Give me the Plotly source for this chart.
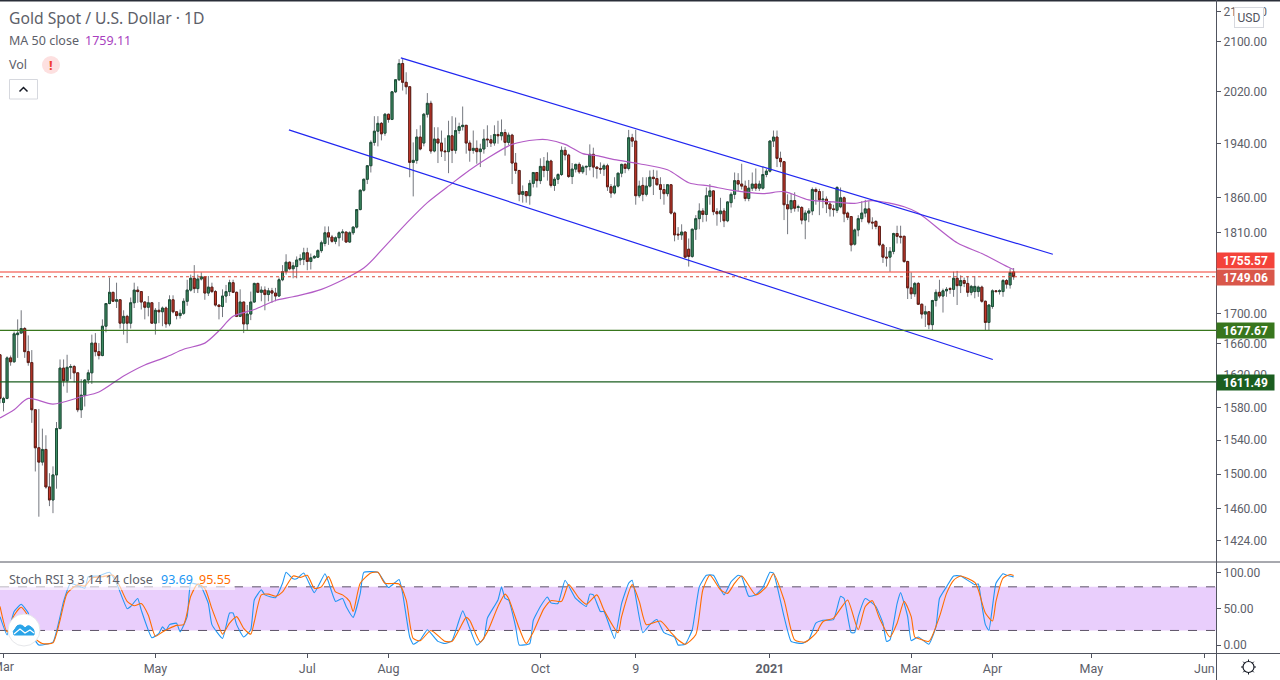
import math
import plotly.graph_objects as go

# Daily candles
opens = [
    1646, 1586, 1591, 1642, 1637, 1672, 1674, 1680, 1650, 1636,
    1577, 1531, 1514, 1529, 1485, 1470, 1499, 1554, 1629, 1613,
    1630, 1631, 1623, 1577, 1595, 1614, 1623, 1661, 1650, 1645,
    1683, 1713, 1728, 1716, 1718, 1687, 1696, 1687, 1714, 1731,
    1729, 1715, 1708, 1714, 1687, 1704, 1702, 1707, 1686, 1718,
    1702, 1697, 1700, 1716, 1731, 1747, 1733, 1746, 1749, 1727,
    1735, 1729, 1711, 1709, 1723, 1729, 1741, 1728, 1696, 1715,
    1686, 1699, 1715, 1740, 1728, 1731, 1725, 1730, 1727, 1723,
    1745, 1756, 1769, 1760, 1763, 1772, 1773, 1782, 1770, 1775,
    1776, 1785, 1795, 1810, 1804, 1798, 1803, 1810, 1811, 1797,
    1810, 1818, 1843, 1871, 1887, 1907, 1942, 1959, 1971, 1956,
    1985, 1977, 2020, 2039, 2065, 2035, 2028, 1912, 1915, 1950,
    1941, 1985, 2002, 1929, 1947, 1941, 1929, 1928, 1952, 1930,
    1960, 1966, 1968, 1941, 1930, 1933, 1928, 1932, 1947, 1946,
    1941, 1954, 1952, 1957, 1942, 1953, 1911, 1900, 1865, 1869,
    1863, 1881, 1897, 1885, 1906, 1900, 1914, 1878, 1887, 1894,
    1930, 1923, 1891, 1902, 1909, 1898, 1905, 1906, 1924, 1905,
    1903, 1902, 1907, 1876, 1867, 1877, 1896, 1909, 1903, 1949,
    1944, 1863, 1878, 1865, 1877, 1890, 1888, 1879, 1872, 1866,
    1879, 1838, 1808, 1807, 1811, 1787, 1777, 1815, 1830, 1841,
    1836, 1862, 1870, 1840, 1837, 1841, 1827, 1853, 1865, 1885,
    1880, 1877, 1859, 1874, 1880, 1874, 1874, 1894, 1899, 1944,
    1950, 1918, 1913, 1850, 1844, 1856, 1846, 1846, 1828, 1838,
    1841, 1872, 1869, 1857, 1858, 1851, 1844, 1842, 1847, 1860,
    1838, 1833, 1794, 1814, 1830, 1838, 1844, 1825, 1826, 1819,
    1793, 1776, 1776, 1784, 1809, 1805, 1805, 1770, 1734, 1726,
    1740, 1712, 1699, 1702, 1685, 1717, 1728, 1723, 1730, 1733,
    1732, 1747, 1737, 1744, 1740, 1728, 1729, 1729, 1735, 1716,
    1688, 1709, 1730, 1729, 1729, 1744, 1738, 1755.57,
]
highs = [
    1646, 1593, 1644, 1645, 1676, 1692, 1704, 1682, 1671, 1652,
    1577, 1578, 1554, 1546, 1501, 1509, 1562, 1640, 1640, 1646,
    1634, 1633, 1623, 1615, 1615, 1627, 1672, 1674, 1661, 1692,
    1713, 1748, 1728, 1741, 1718, 1704, 1698, 1721, 1741, 1736,
    1729, 1716, 1723, 1714, 1707, 1715, 1709, 1709, 1724, 1724,
    1702, 1705, 1720, 1745, 1752, 1765, 1752, 1755, 1750, 1750,
    1741, 1731, 1711, 1732, 1738, 1745, 1745, 1729, 1732, 1715,
    1711, 1729, 1741, 1741, 1736, 1736, 1734, 1734, 1734, 1748,
    1765, 1780, 1770, 1769, 1777, 1780, 1789, 1789, 1781, 1779,
    1787, 1799, 1819, 1819, 1807, 1805, 1812, 1815, 1811, 1812,
    1819, 1843, 1872, 1888, 1908, 1945, 1982, 1982, 1973, 1987,
    1986, 2021, 2040, 2072, 2072, 2051, 2028, 1942, 1962, 1968,
    1987, 2018, 2006, 1965, 1965, 1960, 1949, 1975, 1982, 1980,
    1972, 1997, 1968, 1945, 1960, 1945, 1940, 1962, 1968, 1953,
    1968, 1975, 1977, 1962, 1957, 1955, 1926, 1900, 1878, 1869,
    1886, 1897, 1897, 1918, 1920, 1927, 1916, 1890, 1896, 1936,
    1935, 1925, 1911, 1910, 1912, 1908, 1907, 1939, 1934, 1906,
    1912, 1910, 1910, 1880, 1890, 1896, 1910, 1911, 1961, 1955,
    1961, 1885, 1890, 1890, 1900, 1901, 1900, 1890, 1880, 1880,
    1880, 1840, 1818, 1822, 1812, 1802, 1816, 1835, 1852, 1845,
    1875, 1880, 1871, 1845, 1860, 1845, 1855, 1868, 1897, 1896,
    1910, 1885, 1886, 1897, 1903, 1885, 1906, 1903, 1945, 1960,
    1960, 1928, 1914, 1865, 1866, 1868, 1850, 1848, 1842, 1845,
    1875, 1875, 1873, 1870, 1862, 1855, 1850, 1877, 1875, 1862,
    1840, 1833, 1816, 1835, 1855, 1857, 1855, 1832, 1828, 1820,
    1795, 1790, 1790, 1810, 1820, 1820, 1806, 1771, 1755, 1742,
    1742, 1713, 1710, 1703, 1718, 1732, 1745, 1733, 1735, 1735,
    1756, 1757, 1751, 1748, 1750, 1738, 1750, 1737, 1737, 1717,
    1712, 1732, 1731, 1732, 1746, 1746, 1760, 1761,
]
lows = [
    1585, 1575, 1590, 1632, 1636, 1642, 1674, 1642, 1632, 1561,
    1503, 1451, 1510, 1483, 1463, 1455, 1483, 1554, 1606, 1598,
    1615, 1611, 1574, 1567, 1581, 1609, 1609, 1644, 1640, 1644,
    1675, 1712, 1715, 1707, 1680, 1672, 1661, 1680, 1707, 1714,
    1705, 1692, 1696, 1687, 1672, 1687, 1683, 1681, 1683, 1700,
    1692, 1693, 1698, 1710, 1729, 1727, 1727, 1744, 1718, 1723,
    1727, 1709, 1692, 1695, 1714, 1723, 1727, 1695, 1695, 1674,
    1678, 1691, 1714, 1727, 1716, 1704, 1716, 1714, 1716, 1722,
    1743, 1752, 1758, 1747, 1747, 1765, 1765, 1758, 1759, 1774,
    1775, 1782, 1791, 1793, 1796, 1794, 1791, 1799, 1796, 1796,
    1807, 1816, 1842, 1869, 1880, 1897, 1937, 1936, 1945, 1952,
    1972, 1976, 2018, 2037, 2022, 2016, 1890, 1862, 1910, 1930,
    1936, 1980, 1925, 1927, 1911, 1920, 1914, 1896, 1911, 1925,
    1955, 1960, 1925, 1913, 1925, 1910, 1905, 1925, 1935, 1935,
    1937, 1940, 1945, 1922, 1938, 1880, 1895, 1855, 1853, 1853,
    1850, 1875, 1875, 1880, 1890, 1885, 1875, 1870, 1880, 1892,
    1915, 1889, 1880, 1897, 1895, 1895, 1893, 1900, 1890, 1888,
    1895, 1892, 1870, 1860, 1865, 1875, 1890, 1896, 1900, 1935,
    1850, 1860, 1855, 1862, 1875, 1864, 1878, 1858, 1850, 1862,
    1836, 1798, 1800, 1800, 1775, 1763, 1775, 1800, 1815, 1825,
    1826, 1850, 1835, 1820, 1825, 1818, 1825, 1846, 1858, 1870,
    1872, 1855, 1855, 1870, 1870, 1870, 1872, 1890, 1897, 1935,
    1905, 1905, 1828, 1808, 1838, 1840, 1840, 1822, 1801, 1825,
    1835, 1850, 1835, 1845, 1838, 1833, 1833, 1838, 1845, 1825,
    1828, 1784, 1792, 1805, 1825, 1832, 1822, 1815, 1815, 1791,
    1768, 1763, 1756, 1780, 1795, 1795, 1768, 1719, 1719, 1722,
    1711, 1693, 1682, 1679, 1677, 1709, 1720, 1701, 1722, 1726,
    1722, 1711, 1727, 1735, 1722, 1724, 1720, 1722, 1714, 1678,
    1678, 1706, 1728, 1725, 1722, 1733, 1733, 1745,
]
closes = [
    1591, 1591, 1642, 1637, 1673, 1674, 1680, 1650, 1636, 1577,
    1531, 1514, 1529, 1485, 1470, 1499, 1554, 1629, 1613, 1630,
    1631, 1623, 1577, 1595, 1614, 1623, 1661, 1650, 1645, 1683,
    1713, 1728, 1716, 1718, 1687, 1696, 1687, 1714, 1731, 1729,
    1715, 1708, 1714, 1687, 1704, 1702, 1707, 1686, 1718, 1702,
    1697, 1700, 1716, 1731, 1747, 1733, 1746, 1749, 1727, 1735,
    1729, 1711, 1709, 1723, 1729, 1741, 1728, 1696, 1715, 1686,
    1699, 1715, 1740, 1728, 1731, 1725, 1730, 1727, 1723, 1745,
    1756, 1769, 1760, 1764, 1772, 1774, 1782, 1770, 1775, 1777,
    1785, 1796, 1810, 1804, 1798, 1803, 1810, 1811, 1797, 1810,
    1818, 1843, 1871, 1887, 1907, 1942, 1959, 1971, 1955, 1985,
    1977, 2020, 2039, 2065, 2035, 2028, 1912, 1915, 1950, 1932,
    1985, 2002, 1929, 1947, 1941, 1929, 1928, 1952, 1930, 1960,
    1966, 1968, 1941, 1930, 1933, 1928, 1932, 1947, 1946, 1941,
    1954, 1952, 1957, 1942, 1953, 1911, 1900, 1865, 1869, 1863,
    1881, 1897, 1885, 1906, 1900, 1914, 1878, 1887, 1894, 1930,
    1923, 1891, 1902, 1909, 1898, 1905, 1906, 1924, 1905, 1903,
    1902, 1907, 1876, 1867, 1877, 1896, 1909, 1903, 1949, 1944,
    1863, 1877, 1865, 1877, 1890, 1888, 1879, 1872, 1866, 1879,
    1838, 1807, 1807, 1811, 1776, 1777, 1815, 1830, 1841, 1836,
    1863, 1870, 1840, 1837, 1841, 1827, 1854, 1865, 1885, 1880,
    1877, 1859, 1874, 1880, 1874, 1880, 1894, 1899, 1944, 1950,
    1918, 1913, 1850, 1844, 1856, 1845, 1847, 1828, 1838, 1841,
    1872, 1869, 1857, 1858, 1851, 1844, 1843, 1875, 1860, 1837,
    1832, 1793, 1814, 1830, 1838, 1844, 1825, 1824, 1819, 1793,
    1776, 1775, 1784, 1809, 1805, 1804, 1770, 1734, 1726, 1740,
    1712, 1699, 1702, 1685, 1717, 1728, 1723, 1730, 1732, 1732,
    1747, 1737, 1744, 1740, 1728, 1736, 1736, 1735, 1716, 1688,
    1711, 1730, 1729, 1730, 1744, 1739, 1755, 1749.06,
]
bars = list(range(len(closes)))

# MA 50, read at the bends of the curve
ma_bars = [0, 4, 8, 15, 23, 28, 35, 41, 47, 52, 58, 62, 66, 72, 78, 83, 91, 103,
           109, 115, 121, 128, 131, 138, 145, 152, 155, 160, 165, 169, 174, 181,
           189, 195, 201, 207, 216, 222, 229, 236, 242, 247, 256, 260, 271, 278,
           286, 287]
ma_vals = [1567, 1577, 1591, 1584, 1593, 1599, 1619, 1633, 1643, 1653, 1661, 1677,
           1696, 1705, 1717, 1722, 1732, 1761, 1791, 1823, 1853, 1881, 1893, 1918,
           1939, 1946, 1946, 1939, 1925, 1922, 1916, 1910, 1901, 1882, 1877, 1871,
           1866, 1869, 1857, 1854, 1852, 1856, 1847, 1838, 1796, 1781, 1761, 1759.11]

# Stoch RSI lines
k_bars = [0, 2, 4, 6, 8, 9, 11, 15, 17, 18, 20, 24, 25, 28, 31, 33, 36, 37, 39, 40,
          43, 45, 46, 47, 48, 50, 51, 53, 54, 56, 57, 59, 60, 63, 65, 66, 67, 69, 71,
          72, 74, 75, 78, 80, 81, 83, 84, 86, 89, 92, 93, 95, 97, 98, 100, 102, 103,
          107, 110, 113, 114, 116, 117, 119, 121, 124, 126, 128, 131, 133, 135, 137,
          138, 141, 142, 143, 144, 146, 147, 150, 151, 153, 155, 156, 158, 160, 163,
          166, 167, 168, 170, 171, 174, 176, 178, 179, 182, 184, 186, 188, 191, 192,
          194, 196, 198, 200, 202, 205, 207, 209, 210, 212, 214, 216, 218, 219, 222,
          224, 227, 229, 231, 233, 236, 238, 239, 241, 242, 243, 245, 248, 250, 251,
          252, 254, 255, 257, 258, 260, 263, 265, 266, 268, 270, 272, 276, 277, 278,
          279, 280, 282, 284, 285, 287]
k_vals = [39, 14, 46, 56, 44, 14, 0, 4, 39, 60, 85, 78, 94, 95, 100, 85, 50, 53, 64, 48,
          10, 16, 25, 20, 28, 30, 18, 39, 85, 83, 80, 57, 28, 9, 44, 44, 28, 11, 21,
          62, 76, 69, 65, 85, 100, 91, 91, 99, 72, 98, 87, 60, 64, 53, 38, 71, 100,
          100, 79, 90, 71, 11, 1, 7, 21, 5, 2, 6, 47, 23, 0, 9,
          37, 62, 80, 64, 62, 25, 0, 2, 34, 53, 66, 58, 57, 89, 64,
          53, 70, 69, 46, 46, 9, 57, 85, 89, 17, 28, 35, 17, 11, 0,
          1, 21, 80, 96, 96, 69, 87, 96, 94, 67, 69, 79, 100, 99, 39,
          5, 2, 7, 30, 34, 35, 67, 64, 17, 17, 39, 64, 53, 30, 5,
          7, 57, 72, 39, 6, 11, 1, 25, 64, 80, 95, 95, 83, 84, 55,
          28, 20, 85, 98, 96, 93.69]
d_bars = [0, 2, 4, 6, 8, 10, 12, 15, 17, 19, 22, 24, 26, 29, 32, 34, 36, 38, 40, 42,
          44, 46, 48, 50, 52, 54, 56, 58, 60, 62, 63, 65, 67, 69, 71, 72, 74, 76, 78,
          80, 83, 85, 87, 89, 91, 93, 95, 97, 99, 100, 102, 105, 107, 109, 113, 115,
          117, 119, 122, 126, 128, 130, 132, 133, 136, 138, 141, 143, 144, 147, 149,
          151, 154, 156, 159, 161, 164, 166, 169, 171, 175, 176, 179, 181, 183, 187,
          190, 192, 194, 197, 199, 201, 204, 206, 208, 210, 214, 217, 219, 222, 225,
          228, 231, 233, 236, 238, 240, 243, 245, 247, 249, 252, 254, 256, 258, 259,
          260, 263, 266, 268, 270, 272, 276, 277, 279, 281, 282, 284, 286, 287]
d_vals = [53, 18, 41, 52, 39, 9, 2, 3, 34, 71, 83, 81, 92, 94, 96, 80, 60, 54, 57, 41,
          12, 18, 23, 27, 28, 67, 84, 78, 50, 25, 15, 30, 39, 23, 15, 32, 69, 70, 67,
          73, 95, 93, 96, 78, 80, 94, 73, 69, 60, 46, 85, 99, 100, 85, 84, 62,
          9, 6, 20, 5, 5, 21, 38, 34, 4, 18, 53, 70, 64, 23, 2,
          18, 50, 61, 60, 83, 64, 56, 69, 48, 17, 39, 83, 60, 28, 33,
          17, 7, 1, 14, 76, 96, 76, 71, 85, 95, 69, 80, 98, 62, 7,
          4, 16, 32, 37, 50, 62, 21, 53, 61, 37, 11, 30, 60, 39, 11,
          9, 5, 39, 71, 89, 95, 86, 76, 44, 33, 60, 92, 97, 95.55]

# Channel lines and levels
upper_bars = [113.5, 298.1]
upper_vals = [2074, 1780]
lower_bars = [81.8, 281.1]
lower_vals = [1961, 1640]
last_price = 1749.06
high_line = 1755.57
support_1 = 1677.67
support_2 = 1611.49

price_ticks = [2150, 2100, 2020, 1940, 1860, 1810, 1700, 1660, 1620, 1580, 1540, 1500, 1460, 1424]
stoch_ticks = [0, 50, 100]
time_ticks = [1, 44, 87, 110, 153, 180, 218, 258, 281, 309, 341]
time_labels = ['', 'May', 'Jul', 'Aug', 'Oct', '9', '<b>2021</b>', 'Mar', 'Apr', 'May', 'Jun']

X_END = 344.3
FONT = 'Noto Sans'
AXIS_FONT = 'Roboto'
TEXT = '#5d6069'


def px(x):
    return x / 1216


def py(y):
    return 1 - y / 653


body_hi = [max(o, c) for o, c in zip(opens, closes)]
body_lo = [min(o, c) for o, c in zip(opens, closes)]

data = []

data.append(go.Candlestick(
    x=bars, open=opens, high=highs, low=lows, close=closes,
    increasing=dict(line=dict(color='#75787f', width=1), fillcolor='#75787f'),
    decreasing=dict(line=dict(color='#75787f', width=1), fillcolor='#75787f'),
    whiskerwidth=0, showlegend=False, hoverinfo='skip'))
data.append(go.Candlestick(
    x=bars, open=opens, high=body_hi, low=body_lo, close=closes,
    increasing=dict(line=dict(color='#1d4f37', width=1), fillcolor='#3f8f66'),
    decreasing=dict(line=dict(color='#601c14', width=1), fillcolor='#cf3b2d'),
    whiskerwidth=0, showlegend=False))

data.append(go.Scatter(x=ma_bars, y=ma_vals, mode='lines', showlegend=False,
                       line=dict(color='#b35cc6', width=1.2, shape='spline', smoothing=0.8)))
data.append(go.Scatter(x=upper_bars, y=upper_vals, mode='lines', showlegend=False,
                       line=dict(color='#2026f0', width=1.2)))
data.append(go.Scatter(x=lower_bars, y=lower_vals, mode='lines', showlegend=False,
                       line=dict(color='#2026f0', width=1.2)))

levels = [
    (high_line, '#f23c30', 'solid', 1.2),
    (last_price, '#d9483a', 'dot', 1),
    (support_1, '#38761d', 'solid', 1.2),
    (support_2, '#1b5e20', 'solid', 1.2),
]
for val, col, dash, w in levels:
    data.append(go.Scatter(x=[0, X_END], y=[val, val], mode='lines', showlegend=False,
                           line=dict(color=col, width=w, dash=dash)))

data.append(go.Scatter(x=k_bars, y=k_vals, mode='lines', showlegend=False, yaxis='y2',
                       line=dict(color='#2196f3', width=1.1, shape='spline', smoothing=0.4)))
data.append(go.Scatter(x=d_bars, y=d_vals, mode='lines', showlegend=False, yaxis='y2',
                       line=dict(color='#ff6d00', width=1.1, shape='spline', smoothing=0.6)))

shapes = [
    # Stoch RSI band
    dict(type='rect', xref='paper', yref='y2', x0=0, x1=1, y0=20, y1=80,
         fillcolor='#e9cefc', line_width=0, layer='below'),
    dict(type='line', xref='paper', yref='y2', x0=0, x1=1, y0=80, y1=80,
         line=dict(color='#5d5468', width=1, dash='dash'), layer='below'),
    dict(type='line', xref='paper', yref='y2', x0=0, x1=1, y0=20, y1=20,
         line=dict(color='#5d5468', width=1, dash='dash'), layer='below'),
    # frame
    dict(type='line', xref='paper', yref='paper', x0=0, x1=px(1280), y0=py(0.5), y1=py(0.5),
         line=dict(color='#2a2e39', width=2)),
    dict(type='line', xref='paper', yref='paper', x0=0, x1=px(1280), y0=py(562), y1=py(562),
         line=dict(color='#50535e', width=1)),
    dict(type='line', xref='paper', yref='paper', x0=0, x1=px(1280), y0=py(653.5), y1=py(653.5),
         line=dict(color='#50535e', width=1)),
    dict(type='line', xref='paper', yref='paper', x0=px(1216.5), x1=px(1216.5), y0=py(0), y1=py(680),
         line=dict(color='#50535e', width=1)),
    # legend background of the stoch pane
    dict(type='rect', xref='paper', yref='paper', x0=px(0), x1=px(235), y0=py(571), y1=py(590),
         fillcolor='rgba(255,255,255,0.6)', line_width=0),
    # collapse button
    dict(type='rect', xref='paper', yref='paper', x0=px(9.5), x1=px(37.5), y0=py(79.5), y1=py(99),
         fillcolor='white', line=dict(color='#d6d8de', width=1)),
    dict(type='path', xref='paper', yref='paper',
         path=f'M {px(19.5)} {py(91.5)} L {px(23.5)} {py(87.5)} L {px(27.5)} {py(91.5)}',
         line=dict(color='#131722', width=1.5)),
    # pink circle behind the warning mark
    dict(type='circle', xref='paper', yref='paper', x0=px(42), x1=px(60), y0=py(56), y1=py(74),
         fillcolor='#fde0e0', line_width=0),
    # logo
    dict(type='circle', xref='paper', yref='paper', x0=px(8), x1=px(40), y0=py(614), y1=py(646),
         fillcolor='white', line=dict(color='#e6e7ea', width=1)),
    dict(type='path', xref='paper', yref='paper',
         path=(f'M {px(14)} {py(635)} Q {px(12)} {py(631)} {px(15)} {py(629)} '
               f'Q {px(17)} {py(624)} {px(21)} {py(625)} Q {px(24)} {py(626)} {px(25)} {py(628)} '
               f'Q {px(28)} {py(624)} {px(31)} {py(627)} Q {px(35)} {py(629)} {px(34)} {py(635)} Z'),
         fillcolor='#2aa4e8', line=dict(color='#2aa4e8', width=1)),
    dict(type='path', xref='paper', yref='paper',
         path=(f'M {px(14)} {py(634)} L {px(20)} {py(629)} L {px(25)} {py(633)} '
               f'L {px(30)} {py(630)} L {px(34)} {py(633)}'),
         line=dict(color='white', width=1.2)),
    # settings icon
    dict(type='circle', xref='paper', yref='paper', x0=px(1243), x1=px(1254), y0=py(661.5), y1=py(672.5),
         fillcolor='white', line=dict(color='#131722', width=1.2)),
]
for k in range(8):
    a = k * math.pi / 4
    shapes.append(dict(type='line', xref='paper', yref='paper',
                       x0=px(1248.5 + 5.5 * math.cos(a)), x1=px(1248.5 + 7.5 * math.cos(a)),
                       y0=py(667 + 5.5 * math.sin(a)), y1=py(667 + 7.5 * math.sin(a)),
                       line=dict(color='#131722', width=1)))


def label(x, y, text, color=TEXT, size=12.5, anchor='left'):
    return dict(xref='paper', yref='paper', x=px(x), y=py(y), text=text, showarrow=False,
                xanchor=anchor, yanchor='middle', font=dict(family=FONT, size=size, color=color))


def price_tag(val, y, color):
    return dict(xref='paper', yref='paper', x=px(1216), y=py(y), text=f'<b>{val:.2f}</b>',
                showarrow=False, xanchor='left', yanchor='middle', bgcolor=color, width=57, height=15,
                align='center', borderpad=0, font=dict(family=AXIS_FONT, size=12, color='white'))


annotations = [
    label(7, 18, 'Gold Spot / U.S. Dollar · 1D', size=15.7),
    label(7, 41, 'MA 50 close'),
    label(83, 41, '1759.11', color='#a93fc0'),
    label(7, 65, 'Vol'),
    label(51, 65, '<b>!</b>', color='#f23c30', size=13, anchor='center'),
    label(7, 579, 'Stoch RSI 3 3 14 14 close'),
    label(159, 579, '93.69', color='#2196f3'),
    label(197, 579, '95.55', color='#ff6d00'),
    dict(xref='paper', yref='paper', x=px(3.3), y=py(666), text='Mar', showarrow=False,
         xanchor='center', yanchor='middle', font=dict(family=AXIS_FONT, size=12.5, color=TEXT)),
    price_tag(high_line, 260.5, '#f4433a'),
    price_tag(last_price, 277.5, '#d9574a'),
    price_tag(support_1, 330.5, '#38761d'),
    price_tag(support_2, 382.5, '#1b5e20'),
    dict(xref='paper', yref='paper', x=px(1248.5), y=py(17), text='USD', showarrow=False,
         xanchor='center', yanchor='middle', bgcolor='white', bordercolor='#d6d8de', borderwidth=1,
         width=26, height=17, font=dict(family=AXIS_FONT, size=12, color='#50535e')),
]

layout = go.Layout(
    width=1280, height=680,
    margin=dict(l=0, r=64, t=0, b=27, pad=0),
    paper_bgcolor='white', plot_bgcolor='white',
    showlegend=False,
    boxgap=0.2,
    xaxis=dict(domain=[0, 1], anchor='y2', range=[0, X_END], showgrid=False, zeroline=False,
               rangeslider=dict(visible=False), tickmode='array', tickvals=time_ticks,
               ticktext=time_labels, ticks='outside', ticklen=4, tickcolor='#50535e', showline=False,
               tickfont=dict(family=AXIS_FONT, size=12.5, color=TEXT)),
    yaxis=dict(domain=[91 / 653, 1], type='log',
               range=[math.log10(1400.7), math.log10(2169.7)], side='right', showgrid=False,
               zeroline=False, tickmode='array', tickvals=price_ticks,
               ticktext=[f'{v:.2f}' for v in price_ticks], ticks='outside', ticklen=4,
               tickcolor='#50535e', showline=False, tickfont=dict(family=AXIS_FONT, size=12, color=TEXT)),
    yaxis2=dict(domain=[0, 90 / 653], range=[-11, 112.8], side='right', showgrid=False,
                zeroline=False, tickmode='array', tickvals=stoch_ticks,
                ticktext=[f'{v:.2f}' for v in stoch_ticks], ticks='outside', ticklen=4,
                tickcolor='#50535e', showline=False, tickfont=dict(family=AXIS_FONT, size=12, color=TEXT)),
    shapes=shapes,
    annotations=annotations,
)

fig = go.Figure(data=data, layout=layout)
fig.write_html("out.html", config=dict(displayModeBar=False),
               post_script="document.body.style.margin='0';document.documentElement.style.overflow='hidden';")
